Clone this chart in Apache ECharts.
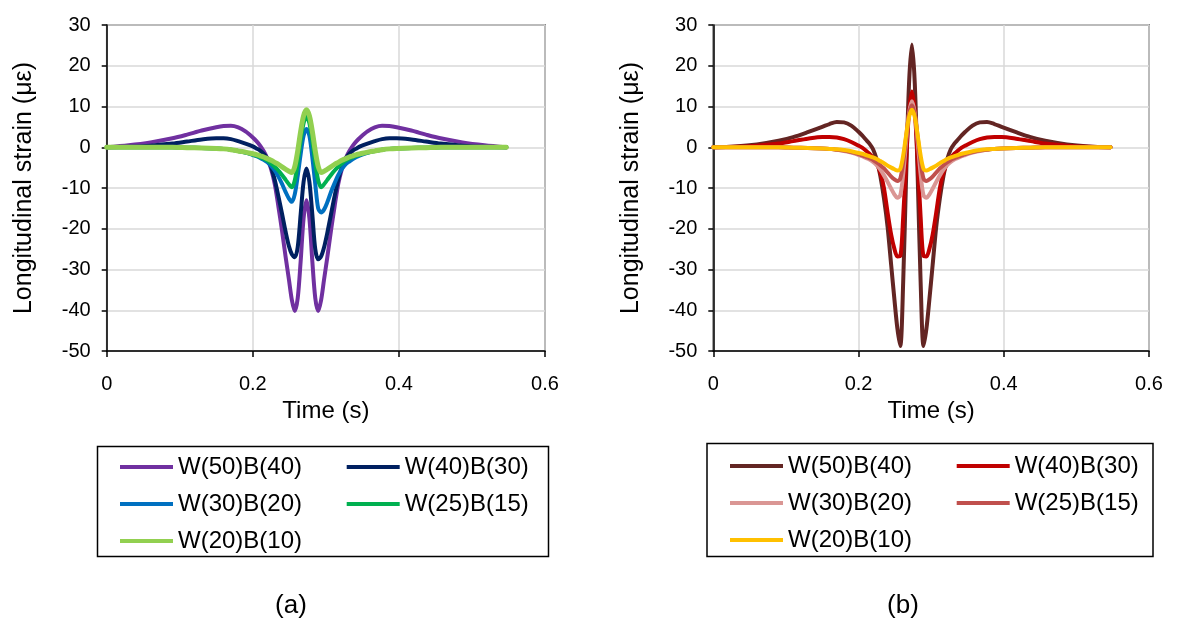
<!DOCTYPE html>
<html><head><meta charset="utf-8">
<script src="https://cdn.jsdelivr.net/npm/echarts@6/dist/echarts.min.js"></script>
<style>html,body{margin:0;padding:0;background:#fff}#c{width:1177px;height:626px}</style>
</head><body><div id="c"></div>
<script>
// Time (s)
const time = [0, 0.03, 0.06, 0.09, 0.11, 0.13, 0.15, 0.16, 0.17, 0.18, 0.19, 0.20, 0.205, 0.21, 0.215, 0.22, 0.225, 0.23, 0.235, 0.24, 0.245, 0.2495, 0.2535, 0.2575, 0.2615, 0.2655, 0.2695, 0.2735,
  0.2775, 0.2815, 0.2855, 0.2895, 0.2935, 0.2975, 0.302, 0.307, 0.312, 0.317, 0.322, 0.327, 0.332, 0.337, 0.342, 0.347, 0.357, 0.367, 0.377, 0.387, 0.397, 0.417, 0.437, 0.457, 0.487, 0.517, 0.547];

// Panel (a)
const seriesNamesA = ['W(50)B(40)', 'W(40)B(30)', 'W(30)B(20)', 'W(25)B(15)', 'W(20)B(10)'];
const a_W50B40 = [0, 0.5, 1.2, 2.2, 3.1, 4.1, 4.9, 5.2, 5.3, 4.9, 3.9, 2.4, 1.5, 0.4, -1.0, -2.8, -5.3, -9, -14.5, -20.5, -27, -32.5, -37.5, -40.2, -37, -28, -17.5, -13,
  -17.5, -28, -37, -40.2, -37.5, -32.5, -27, -20.5, -14.5, -9, -5.3, -2.8, -1.0, 0.4, 1.5, 2.4, 3.9, 4.9, 5.3, 5.2, 4.9, 4.1, 3.1, 2.2, 1.2, 0.5, 0];
const a_W40B30 = [0, 0.1, 0.4, 0.9, 1.4, 1.9, 2.2, 2.2, 2.0, 1.5, 0.9, 0.2, -0.3, -0.8, -1.6, -2.8, -4.8, -8, -12, -16.3, -20.8, -24.3, -26.3, -27, -24.5, -16.5, -8.5, -5.2,
  -8.5, -16.5, -25, -27.5, -26.8, -24.6, -21, -16.5, -12, -8, -4.8, -2.8, -1.6, -0.8, -0.3, 0.2, 0.9, 1.5, 2.0, 2.2, 2.2, 1.9, 1.4, 0.9, 0.4, 0.1, 0];
const a_W30B20 = [0, 0, 0, 0, -0.1, -0.2, -0.3, -0.4, -0.6, -0.9, -1.3, -1.9, -2.2, -2.6, -3.1, -3.7, -4.6, -5.7, -7.2, -9, -11, -12.6, -13.4, -11.5, -7, -1.7, 2.8, 4.5,
  2.8, -2.5, -9, -15, -16, -15.3, -13.5, -11, -8.8, -6.8, -5.3, -4.2, -3.5, -2.9, -2.4, -2.0, -1.4, -0.9, -0.6, -0.4, -0.3, -0.2, -0.1, 0, 0, 0, 0];
const a_W25B15 = [0, 0, 0, 0, -0.1, -0.2, -0.3, -0.4, -0.6, -0.9, -1.3, -1.8, -2.1, -2.4, -2.8, -3.3, -4.0, -4.8, -5.7, -6.8, -8, -9.1, -9.8, -8.1, -3.8, 1.6, 5.9, 7.6,
  5.9, 1.6, -3.8, -8.1, -9.8, -9.1, -8, -6.8, -5.7, -4.8, -4.0, -3.3, -2.8, -2.4, -2.1, -1.8, -1.3, -0.9, -0.6, -0.4, -0.3, -0.2, -0.1, 0, 0, 0, 0];
const a_W20B10 = [0, 0, 0, 0, -0.1, -0.2, -0.3, -0.4, -0.6, -0.9, -1.2, -1.6, -1.8, -2.1, -2.4, -2.8, -3.2, -3.7, -4.2, -4.8, -5.4, -5.9, -6.2, -4.7, -0.9, 3.9, 7.7, 9.2,
  7.7, 3.9, -0.9, -4.7, -6.2, -5.9, -5.4, -4.8, -4.2, -3.7, -3.2, -2.8, -2.4, -2.1, -1.8, -1.6, -1.2, -0.9, -0.6, -0.4, -0.3, -0.2, -0.1, 0, 0, 0, 0];

// Panel (b)
const seriesNamesB = ['W(50)B(40)', 'W(40)B(30)', 'W(30)B(20)', 'W(25)B(15)', 'W(20)B(10)'];
const b_W50B40 = [0, 0.2, 0.7, 1.6, 2.5, 3.7, 5.0, 5.7, 6.2, 6.1, 5.3, 3.8, 2.9, 1.9, 0.9, -0.5, -3, -7, -12.5, -19.5, -29, -37.5, -44.5, -48.8, -33, -7.5, 15.5, 25.2,
  15.5, -7.5, -33, -48.8, -44.5, -37.5, -29, -19.5, -12.5, -7, -3, -0.5, 0.9, 1.9, 2.9, 3.8, 5.3, 6.1, 6.2, 5.7, 5.0, 3.7, 2.5, 1.6, 0.7, 0.2, 0];
const b_W40B30 = [0, 0.1, 0.4, 0.9, 1.5, 2.1, 2.5, 2.5, 2.4, 2.0, 1.3, 0.4, -0.1, -0.8, -1.6, -2.6, -4.0, -6.2, -10, -16, -21.5, -25, -26.8, -26.7, -17.1, -3.5, 8.6, 13.7,
  8.6, -3.5, -17.1, -26.7, -26.8, -25, -21.5, -16, -10, -6.2, -4.0, -2.6, -1.6, -0.8, -0.1, 0.4, 1.3, 2.0, 2.4, 2.5, 2.5, 2.1, 1.5, 0.9, 0.4, 0.1, 0];
const b_W30B20 = [0, 0, 0, 0, -0.1, -0.2, -0.3, -0.4, -0.6, -0.9, -1.3, -1.9, -2.2, -2.6, -3.0, -3.6, -4.4, -5.5, -6.9, -8.5, -10.2, -11.6, -12.4, -11.8, -6.6, 1.3, 8.3, 11.3,
  8.3, 1.3, -6.6, -11.8, -12.4, -11.6, -10.2, -8.5, -6.9, -5.5, -4.4, -3.6, -3.0, -2.6, -2.2, -1.9, -1.3, -0.9, -0.6, -0.4, -0.3, -0.2, -0.1, 0, 0, 0, 0];
const b_W25B15 = [0, 0, 0, 0, -0.1, -0.2, -0.3, -0.4, -0.6, -0.8, -1.2, -1.7, -2.0, -2.3, -2.7, -3.1, -3.7, -4.4, -5.2, -6.2, -7.2, -7.9, -8.3, -7.7, -3.7, 2.4, 8, 10.3,
  8, 2.4, -3.7, -7.7, -8.3, -7.9, -7.2, -6.2, -5.2, -4.4, -3.7, -3.1, -2.7, -2.3, -2.0, -1.7, -1.2, -0.8, -0.6, -0.4, -0.3, -0.2, -0.1, 0, 0, 0, 0];
const b_W20B10 = [0, 0, 0, 0, -0.1, -0.2, -0.3, -0.4, -0.5, -0.7, -1.0, -1.4, -1.6, -1.9, -2.2, -2.5, -2.9, -3.4, -3.9, -4.5, -5, -5.4, -5.7, -5.3, -2, 2.9, 7.4, 9.2,
  7.4, 2.9, -2, -5.3, -5.7, -5.4, -5, -4.5, -3.9, -3.4, -2.9, -2.5, -2.2, -1.9, -1.6, -1.4, -1.0, -0.7, -0.5, -0.4, -0.3, -0.2, -0.1, 0, 0, 0, 0];

const xTicks = [0, 0.2, 0.4, 0.6];
const yTicks = [-50, -40, -30, -20, -10, 0, 10, 20, 30];
const yAxisTitle = 'Longitudinal strain (με)';
const xAxisTitle = 'Time (s)';
const captions = ['(a)', '(b)'];

const colorsA = ['#7030A0', '#002060', '#0070C0', '#00B050', '#92D050'];
const colorsB = ['#632523', '#C00000', '#DA9694', '#C0504D', '#FFC000'];
const widthsA = [4, 4, 4, 4, 5];
const widthsB = [4, 4, 4, 4, 4];

const FONT = '"Liberation Sans", Arial, sans-serif';
const pair = vals => {
  if (vals.length !== time.length) console.error('length mismatch', vals.length, time.length);
  return time.map((t, i) => [t, vals[i]]);
};

function xAxisCfg(gi) {
  return {
    type: 'value', gridIndex: gi, min: xTicks[0], max: xTicks[xTicks.length - 1], interval: 0.2,
    axisLine: { show: true, onZero: false, lineStyle: { color: '#000', width: 1.5 } },
    axisTick: { show: true, length: 6, lineStyle: { color: '#000', width: 1.5 } },
    axisLabel: { fontSize: 20, color: '#000', fontFamily: FONT, margin: 23, formatter: v => String(+v.toFixed(1)) },
    splitLine: { show: true, lineStyle: { color: '#d9d9d9', width: 1.5 } },
    name: xAxisTitle, nameLocation: 'middle', nameGap: 48,
    nameTextStyle: { fontSize: 24, color: '#000', fontFamily: FONT }
  };
}
function yAxisCfg(gi) {
  return {
    type: 'value', gridIndex: gi, min: yTicks[0], max: yTicks[yTicks.length - 1], interval: 10,
    axisLine: { show: true, onZero: false, lineStyle: { color: '#000', width: 1.5 } },
    axisTick: { show: true, length: 5, lineStyle: { color: '#000', width: 1.5 } },
    axisLabel: { fontSize: 20, color: '#000', fontFamily: FONT, margin: 16 },
    splitLine: { show: true, lineStyle: { color: '#d9d9d9', width: 1.5 } },
    name: yAxisTitle, nameLocation: 'middle', nameGap: 70,
    nameTextStyle: { fontSize: 25, color: '#000', fontFamily: FONT }
  };
}

const valsA = [a_W50B40, a_W40B30, a_W30B20, a_W25B15, a_W20B10];
const valsB = [b_W50B40, b_W40B30, b_W30B20, b_W25B15, b_W20B10];

const series = [];
valsA.forEach((v, i) => series.push({
  id: 'a' + i, name: seriesNamesA[i], type: 'line', xAxisIndex: 0, yAxisIndex: 0, data: pair(v),
  smooth: 0.3, symbol: 'none', lineStyle: { color: colorsA[i], width: widthsA[i], join: 'round', cap: 'round' }, itemStyle: { color: colorsA[i] },
  animation: false
}));
valsB.forEach((v, i) => series.push({
  id: 'b' + i, name: seriesNamesB[i] + ' ', type: 'line', xAxisIndex: 1, yAxisIndex: 1, data: pair(v),
  smooth: 0.3, symbol: 'none', lineStyle: { color: colorsB[i], width: widthsB[i], join: 'round', cap: 'round' }, itemStyle: { color: colorsB[i] },
  animation: false
}));

function legendCfg(left, top, names) {
  return {
    orient: 'vertical', left: left, top: top, itemWidth: 53, itemHeight: 4, itemGap: 12,
    padding: 0, selectedMode: false, icon: 'rect',
    textStyle: { fontSize: 24, color: '#000', fontFamily: FONT, lineHeight: 25 },
    data: names
  };
}

const option = {
  backgroundColor: '#fff',
  animation: false,
  grid: [
    { left: 106.7, top: 25, width: 438.3, height: 326, show: true, borderColor: '#333', borderWidth: 1.5, containLabel: false },
    { left: 713.3, top: 25, width: 435.7, height: 326, show: true, borderColor: '#333', borderWidth: 1.5, containLabel: false }
  ],
  xAxis: [xAxisCfg(0), xAxisCfg(1)],
  yAxis: [yAxisCfg(0), yAxisCfg(1)],
  legend: [
    legendCfg(120, 454.5, [seriesNamesA[0], seriesNamesA[2], seriesNamesA[4]]),
    legendCfg(346.7, 454.5, [seriesNamesA[1], seriesNamesA[3]]),
    legendCfg(730, 453.5, [seriesNamesB[0] + ' ', seriesNamesB[2] + ' ', seriesNamesB[4] + ' ']),
    legendCfg(956.7, 453.5, [seriesNamesB[1] + ' ', seriesNamesB[3] + ' '])
  ],
  graphic: [
    { type: 'rect', shape: { x: 97.5, y: 446.5, width: 451, height: 110 }, style: { fill: 'none', stroke: '#000', lineWidth: 1.5 }, silent: true },
    { type: 'rect', shape: { x: 707, y: 443.5, width: 446, height: 113 }, style: { fill: 'none', stroke: '#000', lineWidth: 1.5 }, silent: true },
    { type: 'text', x: 291, y: 606, style: { text: captions[0], fontSize: 26, fontFamily: FONT, fill: '#000', textAlign: 'center', textVerticalAlign: 'middle' } },
    { type: 'text', x: 903, y: 606, style: { text: captions[1], fontSize: 26, fontFamily: FONT, fill: '#000', textAlign: 'center', textVerticalAlign: 'middle' } }
  ],
  series: series
};

const chart = echarts.init(document.getElementById('c'), null, { renderer: 'canvas', width: 1177, height: 626 });
chart.setOption(option);
</script>
</body></html>
